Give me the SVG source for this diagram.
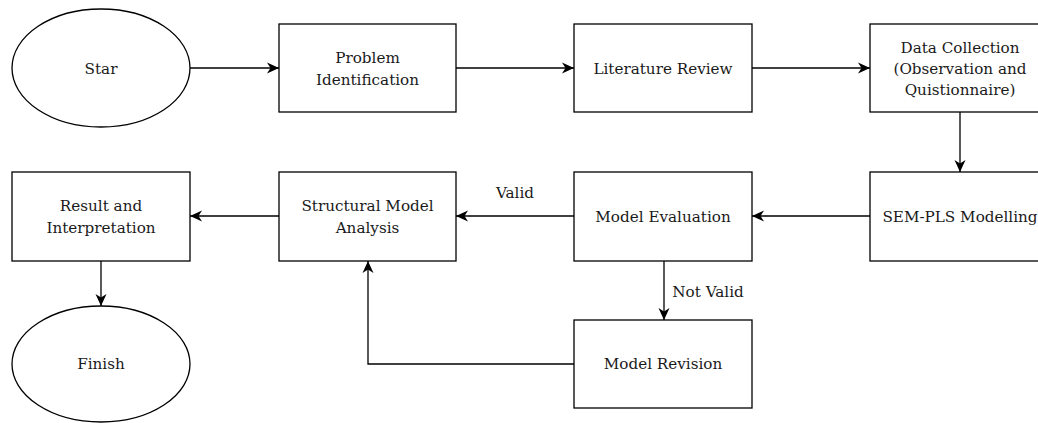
<svg xmlns="http://www.w3.org/2000/svg" width="1038" height="423" viewBox="0 0 1038 423">
<defs>
<style>
.n{fill:#fff;stroke:#000;stroke-width:1.3}
.t{font-family:"DejaVu Serif","Liberation Serif",serif;font-size:15.2px;fill:#1a1a1a;text-anchor:middle}
.c{fill:none;stroke:#000;stroke-width:1.3}
</style>
<marker id="a" markerWidth="13" markerHeight="13" viewBox="0 0 13 13" refX="12" refY="6.5" orient="auto" markerUnits="userSpaceOnUse">
<path d="M0,1 L12,6.5 L0,12 L3.5,6.5 Z" fill="#000"/>
</marker>
</defs>
<rect width="1038" height="423" fill="#fff"/>
<g id="connectors">
<line class="c" x1="190" y1="68" x2="279" y2="68" marker-end="url(#a)"/>
<line class="c" x1="456" y1="68" x2="574" y2="68" marker-end="url(#a)"/>
<line class="c" x1="752" y1="68" x2="870" y2="68" marker-end="url(#a)"/>
<line class="c" x1="960" y1="112" x2="960" y2="172" marker-end="url(#a)"/>
<line class="c" x1="870" y1="216" x2="752" y2="216" marker-end="url(#a)"/>
<line class="c" x1="574" y1="216" x2="456" y2="216" marker-end="url(#a)"/>
<line class="c" x1="279" y1="216" x2="190" y2="216" marker-end="url(#a)"/>
<line class="c" x1="101" y1="261" x2="101" y2="306" marker-end="url(#a)"/>
<line class="c" x1="664" y1="261" x2="664" y2="320" marker-end="url(#a)"/>
<polyline class="c" points="574,364 368,364 368,261" marker-end="url(#a)"/>
<text class="t" x="515" y="198">Valid</text>
<text class="t" x="708" y="297">Not Valid</text>
</g>
<g id="start"><ellipse class="n" cx="101" cy="68" rx="89" ry="59"/><text class="t" x="101" y="74">Star</text></g>
<g id="problem"><rect class="n" x="279" y="24" width="177" height="88"/><text class="t" x="367.5" y="63">Problem</text><text class="t" x="367.5" y="85">Identification</text></g>
<g id="literature"><rect class="n" x="574" y="24" width="178" height="88"/><text class="t" x="663" y="74">Literature Review</text></g>
<g id="data"><rect class="n" x="870" y="24" width="180" height="88"/><text class="t" x="960" y="53">Data Collection</text><text class="t" x="960" y="74">(Observation and</text><text class="t" x="960" y="95">Quistionnaire)</text></g>
<g id="sem"><rect class="n" x="870" y="172" width="180" height="89"/><text class="t" x="960" y="222">SEM-PLS Modelling</text></g>
<g id="evaluation"><rect class="n" x="574" y="172" width="178" height="89"/><text class="t" x="663" y="222">Model Evaluation</text></g>
<g id="structural"><rect class="n" x="279" y="172" width="177" height="89"/><text class="t" x="367.5" y="211">Structural Model</text><text class="t" x="367.5" y="233">Analysis</text></g>
<g id="result"><rect class="n" x="12" y="172" width="178" height="89"/><text class="t" x="101" y="211">Result and</text><text class="t" x="101" y="233">Interpretation</text></g>
<g id="revision"><rect class="n" x="574" y="320" width="178" height="88"/><text class="t" x="663" y="369">Model Revision</text></g>
<g id="finish"><ellipse class="n" cx="101" cy="364" rx="89" ry="58"/><text class="t" x="101" y="369">Finish</text></g>
</svg>
